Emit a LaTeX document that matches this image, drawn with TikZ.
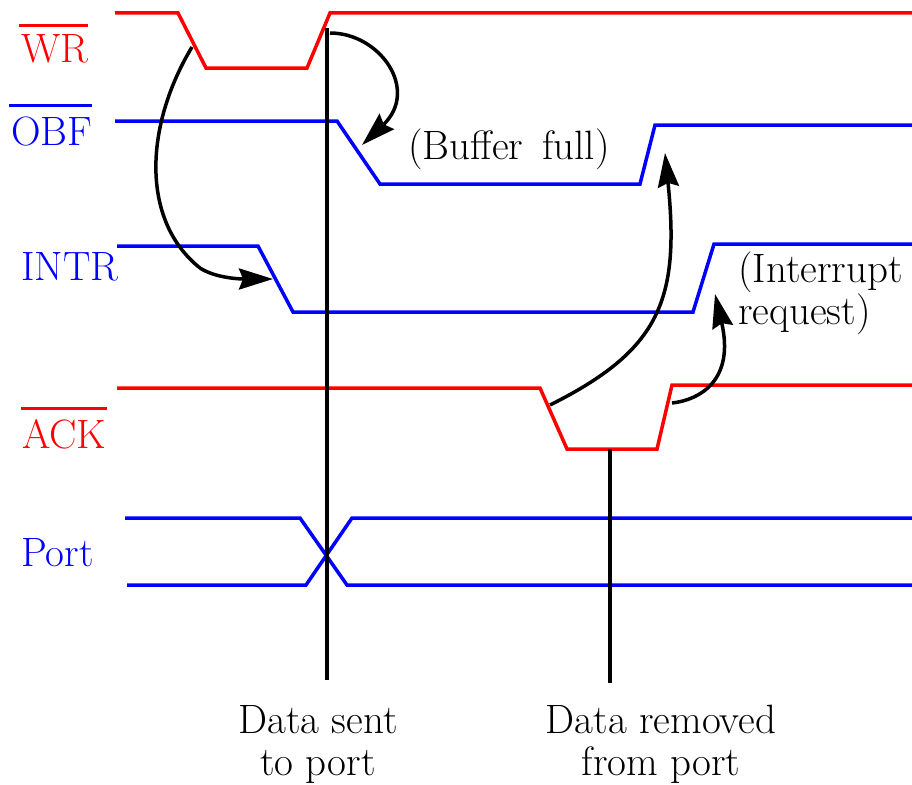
\documentclass[tikz,border=0pt]{standalone}
\usetikzlibrary{arrows.meta}
\definecolor{sigred}{RGB}{255,0,0}
\definecolor{sigblue}{RGB}{0,0,255}

\begin{document}
\begin{tikzpicture}[x=1pt, y=-1pt,
  wave/.style={line width=3.5pt, line join=miter},
  redwave/.style={wave, draw=sigred},
  bluewave/.style={wave, draw=sigblue},
  txt/.style={font=\fontsize{41}{42}\selectfont, inner sep=0pt},
  lbl/.style={txt, anchor=base west},
  bar/.style={line width=3pt},
  marker/.style={line width=3.5pt, draw=black},
  cause/.style={line width=3.5pt, draw=black,
    -{Stealth[length=34pt, width=21pt, inset=4pt]}}
]
\useasboundingbox (0,0) rectangle (912,784);

% ---- signal names ----
\node[lbl, text=sigred]  (wr)   at (21,63)  {WR};
\node[lbl, text=sigblue] (obf)  at (11,145) {OBF};
\node[lbl, text=sigblue] (intr) at (21,280) {INTR};
\node[lbl, text=sigred]  (ack)  at (22,448) {ACK};
\node[lbl, text=sigblue] (port) at (21,566) {Port};

% active-low bars
\draw[bar, sigred]  ([xshift=-2pt, yshift=9pt]wr.north west)   -- ([yshift=9pt]wr.north east);
\draw[bar, sigblue] ([xshift=-2pt, yshift=11pt]obf.north west) -- ([yshift=11pt]obf.north east);
\draw[bar, sigred]  ([xshift=-1pt, yshift=10pt]ack.north west) -- ([yshift=10pt]ack.north east);

% ---- waveforms ----
\draw[redwave]  (115,13) -- (178,13) -- (206,68) -- (307,68) -- (330,13) -- (912,13);
\draw[bluewave] (115,121) -- (337,121) -- (380,184) -- (640,184) -- (655,125) -- (912,125);
\draw[bluewave] (117,246) -- (258,246) -- (293,312) -- (693,312) -- (714,244) -- (912,244);
\draw[redwave]  (117,388) -- (540,388) -- (567,449) -- (657,449) -- (672,385) -- (912,385);
\draw[bluewave] (125,518) -- (300,518) -- (347,585) -- (912,585);
\draw[bluewave] (127,585) -- (306,585) -- (352,518) -- (912,518);

% ---- event markers ----
\coordinate (sentTop) at (327,28);
\coordinate (sentBot) at (327,680);
\coordinate (remTop)  at (610,449);
\coordinate (remBot)  at (610,683);
\draw[marker] (sentTop) -- (sentBot);
\draw[marker] (remTop) -- (remBot);

% ---- annotations ----
\node[lbl] (bf) at (408,159) {(Buffer\, full)};
\node[txt, anchor=north west, align=left, font=\fontsize{41}{40}\selectfont]
  (ir) at (738,252) {(Interrupt\\request)};
\node[txt, align=center] (sent)    at (318,744) {Data sent\\to port};
\node[txt, align=center] (removed) at (661,744) {Data removed\\from port};

% ---- cause and effect ----
\coordinate (wrFall)   at (192,47);
\coordinate (intrFall) at (273,279);
\coordinate (wrRise)   at (330,33);
\coordinate (obfFall)  at (362,145);
\coordinate (ackFall)  at (550,405);
\coordinate (obfRise)  at (665,153);
\coordinate (ackRise)  at (672,403);
\coordinate (intrRise) at (715,294);

\draw[cause] (wrFall) .. controls (145,125) and (140,220) .. (200,268)
             .. controls (215,278) and (240,279) .. (intrFall);
\draw[cause] (wrRise) .. controls (380,33) and (420,90) .. (obfFall);
\draw[cause] (ackFall) .. controls (660,350) and (680,300) .. (obfRise);
\draw[cause] (ackRise) .. controls (700,400) and (735,380) .. (intrRise);
\end{tikzpicture}
\end{document}
